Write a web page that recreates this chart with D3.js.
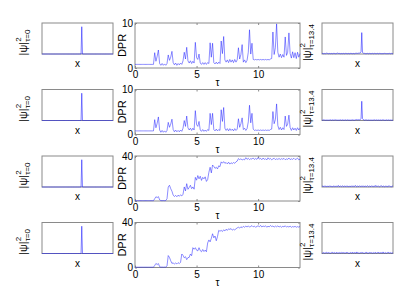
<!DOCTYPE html>
<html>
<head>
<meta charset="utf-8">
<script src="https://cdn.jsdelivr.net/npm/d3@7"></script>
<style>
  body { margin: 0; background: #fff; }
  text { font-family: Arial, "Liberation Sans", sans-serif; }
</style>
</head>
<body>
<svg id="fig" width="415" height="294"></svg>
<script>
// DPR(tau), sampled every 0.1 from tau = 0 to 13.4
const dt = 0.1;
const dprRow1 = [0.8,0.8,0.8,0.8,0.8,0.8,0.8,0.8,0.8,0.8,0.8,0.8,0.8,0.8,0.8,0.8,
  3.4,1.5,2.6,4.0,1.0, 0.6,1.0,0.6,0.9,0.6,1.0, 2.9,1.7,2.4,3.7,1.2,
  0.7,1.1,0.6,1.0,0.7,1.1,0.8, 1.6,3.5,2.0,4.6,1.6,1.1,1.6,1.0,1.5,1.1,
  5.7,2.3,1.9,3.1,1.1, 0.8,1.2,0.8,1.2,0.8,1.2, 1.0,5.6,2.4,5.5,1.2,
  0.9,1.3,0.9,1.3,1.0, 6.0,3.2,7.0,1.8, 1.3,1.8,1.2,1.9,1.3,1.8,1.2,1.9,1.3,1.8,
  4.5,2.0,3.0,5.2,1.3,1.8,1.2,1.7,3.5,8.5,3.1,5.5,1.9,
  1.8,1.9,1.8,1.9,1.8,1.9,1.8,1.9,1.8,1.9,1.8,1.9,1.8,2.0,
  2.1,8.0,3.0,4.5,9.8,3.5,2.4,3.1,2.3,3.0,2.4,6.9,2.8,3.5,7.8,3.2,
  2.2,3.6,2.3,3.4,2.1,3.5,2.4,3.2];
const dprRow2 = [0.8,0.8,0.8,0.8,0.8,0.8,0.8,0.8,0.8,0.8,0.8,0.8,0.8,0.8,0.8,0.8,
  3.3,1.5,2.5,3.9,1.0, 0.5,0.9,0.5,0.8,0.5,0.9, 2.7,1.6,2.3,3.4,1.1,
  0.6,1.0,0.6,0.9,0.6,1.0,0.7, 1.4,3.1,1.8,4.1,1.5,1.0,1.4,0.9,1.4,1.0,
  5.3,2.2,1.8,2.9,1.0, 0.7,1.1,0.7,1.0,0.7,1.1, 0.9,4.7,2.2,4.7,1.1,
  0.8,1.2,0.8,1.1,0.9, 5.5,2.9,6.0,1.4, 0.9,1.3,0.8,1.3,0.9,1.2,0.8,1.3,0.9,1.2,
  3.5,1.6,2.4,3.7,1.1,1.4,0.9,1.3,2.8,6.5,2.6,4.7,1.2,
  0.9,1.0,0.9,1.0,0.9,1.0,0.9,1.0,0.9,1.0,0.9,1.0,0.9,1.1,
  1.2,5.1,2.4,3.3,6.8,2.0,1.1,1.6,1.0,1.5,1.1,4.1,1.8,2.3,4.3,1.5,
  0.9,1.5,1.0,1.4,0.9,1.5,1.0,1.4];
const dprRow3 = [0.3,0.3,0.3,0.3,0.3,0.3,0.3,0.3,0.3,0.3,0.3,0.3,0.3,0.3,0.3,0.3,
  2.0,3.8,3.0,3.9,1.0,0.4,0.3,0.4,0.3,0.4,
  2.0,12.5,14.0,11.0,8.7,5.2,4.0,5.0,3.8,5.2,4.2,5.5,4.5,6.0,
  12.5,9.0,15.4,10.4,12.0,14.0,11.0,12.5,10.5,
  21.0,18.5,22.6,19.7,22.0,18.3,21.0,19.7,21.5,17.4,19.0,
  25.5,30.0,25.0,32.0,30.7,29.0,30.0,28.5,31.3,30.5,
  34.8,33.6,35.0,33.5,34.2,33.0,34.5,32.8,34.0,33.2,34.2,33.5,34.8,35.5,
  37.7,36.8,37.5,36.5,37.1,36.6,38.5,37.0,38.0,36.8,37.6,37.2,38.3,36.9,37.8,37.0,
  38.6,37.2,37.9,36.7,38.2,37.0,37.6,36.5,38.4,37.1,37.8,36.6,37.4,38.0,36.8,37.5,
  37.0,37.8,36.9,37.6,37.1,37.9,36.7,37.4,37.0,38.2,36.8,37.5,37.0,38.0,36.9,37.3,
  38.1,36.6,37.2];
const dprRow4 = [0.3,0.3,0.3,0.3,0.3,0.3,0.3,0.3,0.3,0.3,0.3,0.3,0.3,0.3,0.3,0.3,
  1.8,3.6,2.6,3.5,0.8,0.3,0.4,0.3,0.4,0.3,
  1.5,10.6,9.0,6.0,3.6,4.2,3.0,4.0,3.2,4.3,3.5,4.6,
  12.0,10.8,8.6,9.6,7.0,8.8,9.0,12.0,10.5,
  17.6,16.2,17.6,15.4,14.8,17.6,15.0,14.0,16.0,14.2,15.5,14.0,
  21.8,24.5,22.8,26.0,30.0,26.4,28.0,23.8,27.5,33.0,
  32.2,33.0,32.0,33.5,32.5,34.0,33.0,34.4,33.8,34.6,33.2,34.0,33.4,34.4,35.2,
  35.8,35.0,36.2,35.4,36.6,35.8,36.8,36.0,37.0,35.9,36.5,37.2,36.1,36.8,35.7,36.6,
  37.0,36.2,37.4,36.0,36.9,36.3,37.1,35.8,36.7,36.1,37.3,36.4,36.9,35.9,36.8,36.2,
  37.0,36.0,36.7,35.8,36.6,36.1,37.1,35.9,36.5,36.0,36.8,35.7,36.4,36.0,36.6,35.8,
  36.3,35.9,36.5];

const tauTicks = [0, 5, 10];
const dprTicksSmall = [0, 10];
const dprTicksLarge = [0, 40];

// |psi|^2 on sites 0..100 (in percent)
const psiStart = [0,0,0,0,0,0,0,0,0,0, 0,0,0,0,0,0,0,0,0,0, 0,0,0,0,0,0,0,0,0,0,
  0,0,0,0,0,0,0,0,0,0, 0,0,0,0,0,0,0,0,0,0, 0,0,0,0,0,0,88,0,0,0,
  0,0,0,0,0,0,0,0,0,0, 0,0,0,0,0,0,0,0,0,0, 0,0,0,0,0,0,0,0,0,0,
  0,0,0,0,0,0,0,0,0,0,0];
const psiEndRow1 = [1,2,1,1,2,1,3,1,2,1, 1,2,1,2,1,1,2,1,2,1, 2,1,3,2,1,2,1,1,2,1,
  2,1,1,2,1,2,1,2,1,1, 2,1,2,1,2,1,1,2,3,2, 2,3,2,3,4,8,69,5,3,2,
  2,1,2,1,2,1,1,2,1,2, 1,2,1,1,2,1,2,1,2,1, 1,2,1,2,1,1,2,1,2,1,
  2,1,1,2,1,2,1,1,2,1,1];
const psiEndRow2 = [1,1,2,1,2,1,1,2,1,1, 2,1,2,1,1,2,1,3,1,2, 1,2,1,1,2,1,2,1,1,2,
  1,2,1,2,1,1,2,1,2,1, 1,2,1,2,1,2,1,2,2,3, 2,2,3,2,3,7,62,6,3,2,
  1,2,1,2,1,1,2,1,1,2, 1,1,2,1,2,1,1,2,1,1, 2,1,2,1,1,2,1,2,1,1,
  1,2,1,1,2,1,1,2,1,1,1];
const psiEndRow3 = [1,3,2,1,4,2,1,3,2,2, 1,4,2,1,3,1,2,4,1,2, 3,1,2,5,1,2,3,1,2,4,
  1,2,3,2,1,4,2,1,3,2, 2,1,4,2,3,1,2,5,2,1, 3,2,1,4,2,1,3,2,4,1,
  2,3,1,2,4,2,1,3,2,1, 4,2,3,1,2,5,1,3,2,4, 2,1,3,2,4,1,2,3,1,2,
  3,2,1,4,2,3,1,2,1,3,2];
const psiEndRow4 = [2,1,3,2,1,2,4,1,2,3, 1,2,1,3,2,4,1,2,3,1, 2,4,1,2,1,3,2,1,4,2,
  3,1,2,1,4,2,3,1,2,1, 3,2,1,4,1,2,3,2,1,5, 2,1,3,1,2,4,2,3,1,2,
  1,3,2,4,1,2,1,3,2,4, 2,1,3,2,1,4,2,1,3,2, 4,1,2,3,2,1,5,2,1,3,
  2,1,3,2,4,1,2,3,1,2,1];

const rows = [
  { dpr: dprRow1, dprMax: 10, dprTicks: dprTicksSmall, psiEnd: psiEndRow1 },
  { dpr: dprRow2, dprMax: 10, dprTicks: dprTicksSmall, psiEnd: psiEndRow2 },
  { dpr: dprRow3, dprMax: 40, dprTicks: dprTicksLarge, psiEnd: psiEndRow3 },
  { dpr: dprRow4, dprMax: 40, dprTicks: dprTicksLarge, psiEnd: psiEndRow4 }
];

// layout
const rowTop = [23, 89.5, 156, 222.5];
const midX = 135, midW = 165, midH = 45;
const leftX = 42, rightX = 322, sideW = 71, sideH = 31;
const frameColor = '#8a8a8a';
const lineColor = '#1a1aff';

const svg = d3.select('#fig');

function frame(g, w, h) {
  g.append('rect')
    .attr('width', w).attr('height', h)
    .attr('fill', 'none')
    .attr('stroke', frameColor)
    .attr('stroke-width', 1);
}

function psiLabel(g, cx, cy, sub) {
  let lab = g.append('g');
  let main = lab.append('text').attr('font-size', 11).attr('fill', '#000').text('|ψ|');
  let w = main.node().getComputedTextLength();
  lab.append('text').attr('x', w).attr('y', -6).attr('font-size', 8).text('2');
  let s = lab.append('text').attr('x', w).attr('y', 3).attr('font-size', 8).text(sub);
  let total = w + s.node().getComputedTextLength();
  lab.attr('transform', `translate(${cx},${cy}) rotate(-90) translate(${-total / 2},0)`);
}

function psiPanel(x0, y0, values, sub, labelX) {
  let g = svg.append('g').attr('transform', `translate(${x0},${y0})`);
  let x = d3.scaleLinear().domain([0, values.length - 1]).range([0, sideW]);
  let y = d3.scaleLinear().domain([0, 100]).range([sideH, 0]);
  frame(g, sideW, sideH);
  g.append('path')
    .datum(values)
    .attr('fill', 'none')
    .attr('stroke', lineColor)
    .attr('stroke-width', 0.55)
    .attr('d', d3.line().x((d, i) => x(i)).y(d => y(d)));
  g.append('text')
    .attr('x', sideW / 2).attr('y', sideH + 13)
    .attr('text-anchor', 'middle')
    .attr('font-size', 10)
    .text('x');
  psiLabel(svg, labelX, y0 + sideH / 2 + 4, sub);
}

function dprPanel(y0, row) {
  let g = svg.append('g').attr('transform', `translate(${midX},${y0})`);
  let x = d3.scaleLinear().domain([0, 13.4]).range([0, midW]);
  let y = d3.scaleLinear().domain([0, row.dprMax]).range([midH, 0]);

  frame(g, midW, midH);

  let styleAxis = function (a) {
    a.select('.domain').remove();
    a.selectAll('line').attr('stroke', frameColor);
    a.selectAll('text').attr('font-size', 10).attr('font-family', 'Arial, "Liberation Sans", sans-serif').attr('fill', '#000');
  };

  g.append('g').attr('transform', `translate(0,${midH})`)
    .call(d3.axisBottom(x).tickValues(tauTicks).tickSize(-2).tickPadding(3))
    .call(styleAxis);
  g.append('g')
    .call(d3.axisTop(x).tickValues(tauTicks).tickSize(-2).tickFormat(''))
    .call(styleAxis);
  g.append('g')
    .call(d3.axisLeft(y).tickValues(row.dprTicks).tickSize(-2).tickPadding(2))
    .call(styleAxis);
  g.append('g').attr('transform', `translate(${midW},0)`)
    .call(d3.axisRight(y).tickValues(row.dprTicks).tickSize(-2).tickFormat(''))
    .call(styleAxis);

  g.append('path')
    .datum(row.dpr)
    .attr('fill', 'none')
    .attr('stroke', lineColor)
    .attr('stroke-width', 0.5)
    .attr('d', d3.line().x((d, i) => x(i * dt)).y(d => y(d)));

  g.append('text')
    .attr('transform', `translate(-13,${midH / 2}) rotate(-90)`)
    .attr('text-anchor', 'middle')
    .attr('dy', '0.35em')
    .attr('font-size', 11)
    .text('DPR');

  g.append('text')
    .attr('x', midW / 2).attr('y', midH + 18)
    .attr('text-anchor', 'middle')
    .attr('font-size', 10)
    .text('τ');
}

rows.forEach(function (row, i) {
  let top = rowTop[i];
  psiPanel(leftX, top, psiStart, 'τ=0', 27);
  dprPanel(top, row);
  psiPanel(rightX, top, row.psiEnd, 'τ=13.4', 311);
});
</script>
</body>
</html>
